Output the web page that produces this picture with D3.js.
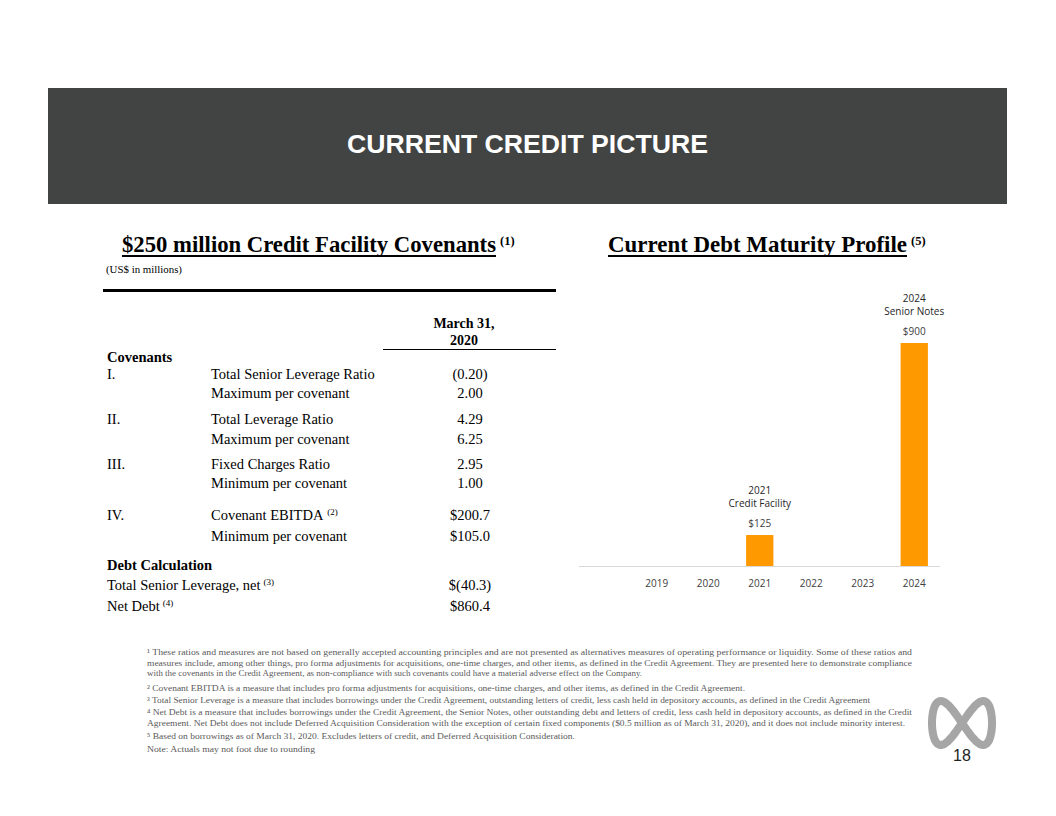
<!DOCTYPE html>
<html><head><meta charset="utf-8">
<script src="https://cdn.jsdelivr.net/npm/d3@7"></script>
<style>body{margin:0;background:#fff}svg{display:block}</style>
</head><body>
<svg id="c" width="1056" height="816"></svg>
<script>
// ---------- DATA ----------
const years = ["2019","2020","2021","2022","2023","2024"];
const maturities = [0, 0, 125, 0, 0, 900];
const barNoteTop = ["", "", "2021", "", "", "2024"];
const barNoteBottom = ["", "", "Credit Facility", "", "", "Senior Notes"];

const covenantNums = ["I.", "", "II.", "", "III.", "", "IV.", ""];
const covenantLabels = ["Total Senior Leverage Ratio", "Maximum per covenant", "Total Leverage Ratio", "Maximum per covenant",
  "Fixed Charges Ratio", "Minimum per covenant", "Covenant EBITDA", "Minimum per covenant"];
const covenantNotes = ["", "", "", "", "", "", "(2)", ""];
const covenantValues = ["(0.20)", "2.00", "4.29", "6.25", "2.95", "1.00", "$200.7", "$105.0"];
const debtLabels = ["Total Senior Leverage, net", "Net Debt"];
const debtNotes = ["(3)", "(4)"];
const debtValues = ["$(40.3)", "$860.4"];

const footnotes = [
  "\u00b9 These ratios and measures are not based on generally accepted accounting principles and are not presented as alternatives measures of operating performance or liquidity. Some of these ratios and",
  "measures include, among other things, pro forma adjustments for acquisitions, one-time charges, and other items, as defined in the Credit Agreement. They are presented here to demonstrate compliance",
  "with the covenants in the Credit Agreement, as non-compliance with such covenants could have a material adverse effect on the Company.",
  "\u00b2 Covenant EBITDA is a measure that includes pro forma adjustments for acquisitions, one-time charges, and other items, as defined in the Credit Agreement.",
  "\u00b3 Total Senior Leverage is a measure that includes borrowings under the Credit Agreement, outstanding letters of credit, less cash held in depository accounts, as defined in the Credit Agreement",
  "\u2074 Net Debt is a measure that includes borrowings under the Credit Agreement, the Senior Notes, other outstanding debt and letters of credit, less cash held in depository accounts, as defined in the Credit",
  "Agreement. Net Debt does not include Deferred Acquisition Consideration with the exception of certain fixed components ($0.5 million as of March 31, 2020), and it does not include minority interest.",
  "\u2075 Based on borrowings as of March 31, 2020. Excludes letters of credit, and Deferred Acquisition Consideration.",
  "Note: Actuals may not foot due to rounding"
];

// ---------- LAYOUT ----------
const svg = d3.select("#c");
const serif = "'Liberation Serif','Times New Roman',serif";
const sans = "'Liberation Sans',Arial,sans-serif";
const chartFont = "'Open Sans','Noto Sans',sans-serif";

// header band
svg.append("rect").attr("x", 48).attr("y", 88).attr("width", 959).attr("height", 116).attr("fill", "#424443");
svg.append("text").attr("x", 347).attr("y", 153)
  .attr("font-family", sans).attr("font-weight", "bold").attr("font-size", 26).attr("fill", "#fff")
  .attr("textLength", 361).attr("lengthAdjust", "spacingAndGlyphs")
  .text("CURRENT CREDIT PICTURE");

// section title helper
function heading(x, y, txt, note, width) {
  svg.append("text").attr("x", x).attr("y", y)
    .attr("font-family", serif).attr("font-weight", "bold").attr("font-size", 22.5).attr("fill", "#000")
    .attr("textLength", width).attr("lengthAdjust", "spacingAndGlyphs").text(txt);
  svg.append("line").attr("x1", x).attr("x2", x + width).attr("y1", y + 4).attr("y2", y + 4)
    .attr("stroke", "#000").attr("stroke-width", 2);
  svg.append("text").attr("x", x + width + 4).attr("y", y - 7)
    .attr("font-family", serif).attr("font-weight", "bold").attr("font-size", 12.5).attr("fill", "#000").text(note);
}
heading(122, 252, "$250 million Credit Facility Covenants", "(1)", 374);
heading(608, 252, "Current Debt Maturity Profile", "(5)", 299);

// ---------- TABLE ----------
svg.append("text").attr("x", 106).attr("y", 273).attr("font-family", serif).attr("font-size", 10)
  .attr("textLength", 76).attr("lengthAdjust", "spacingAndGlyphs").text("(US$ in millions)");
svg.append("line").attr("x1", 103).attr("x2", 556).attr("y1", 290.5).attr("y2", 290.5).attr("stroke", "#000").attr("stroke-width", 3);
svg.append("text").attr("x", 464).attr("y", 328).attr("text-anchor", "middle").attr("font-family", serif)
  .attr("font-weight", "bold").attr("font-size", 14).text("March 31,");
svg.append("text").attr("x", 464).attr("y", 345).attr("text-anchor", "middle").attr("font-family", serif)
  .attr("font-weight", "bold").attr("font-size", 14).text("2020");
svg.append("line").attr("x1", 383).attr("x2", 556).attr("y1", 349.5).attr("y2", 349.5).attr("stroke", "#000").attr("stroke-width", 1);
svg.append("text").attr("x", 107).attr("y", 362).attr("font-family", serif).attr("font-weight", "bold").attr("font-size", 14.5).text("Covenants");

const rowY = [379, 398, 424, 444, 469, 488, 520, 541];
const valX = 470;
const tbl = svg.append("g").attr("font-family", serif).attr("font-size", 14.5).attr("fill", "#000");
covenantLabels.forEach((lab, i) => {
  tbl.append("text").attr("x", 107).attr("y", rowY[i]).text(covenantNums[i]);
  const t = tbl.append("text").attr("x", 211).attr("y", rowY[i]).text(lab);
  if (covenantNotes[i]) {
    const w = t.node().getComputedTextLength();
    tbl.append("text").attr("x", 211 + w + 4).attr("y", rowY[i] - 5).attr("font-size", 9).text(covenantNotes[i]);
  }
  tbl.append("text").attr("x", valX).attr("y", rowY[i]).attr("text-anchor", "middle").text(covenantValues[i]);
});
tbl.append("text").attr("x", 107).attr("y", 570).attr("font-weight", "bold").text("Debt Calculation");
const debtY = [590, 611];
debtLabels.forEach((lab, i) => {
  const t = tbl.append("text").attr("x", 107).attr("y", debtY[i]).text(lab);
  const w = t.node().getComputedTextLength();
  tbl.append("text").attr("x", 107 + w + 3).attr("y", debtY[i] - 5).attr("font-size", 9).text(debtNotes[i]);
  tbl.append("text").attr("x", valX).attr("y", debtY[i]).attr("text-anchor", "middle").text(debtValues[i]);
});

// ---------- BAR CHART ----------
const baseY = 566;
const x = d3.scaleBand().domain(years).range([631, 940]).paddingInner(0.47).paddingOuter(0.235);
const y = d3.scaleLinear().domain([0, 900]).range([baseY, 343]);

svg.append("line").attr("x1", 579).attr("x2", 940).attr("y1", baseY + 0.5).attr("y2", baseY + 0.5)
  .attr("stroke", "#d9d9d9").attr("stroke-width", 1);

const xAxis = svg.append("g").attr("transform", `translate(0,${baseY})`)
  .call(d3.axisBottom(x).tickSize(0).tickPadding(14));
xAxis.select(".domain").remove();
xAxis.selectAll("text").attr("font-family", chartFont).attr("font-size", 10).attr("fill", "#404040");

const bars = svg.append("g");
years.forEach((yr, i) => {
  if (!maturities[i]) return;
  bars.append("rect").attr("x", x(yr)).attr("width", x.bandwidth())
    .attr("y", y(maturities[i])).attr("height", baseY - y(maturities[i])).attr("fill", "#ff9900");
  const cx = x(yr) + x.bandwidth() / 2;
  bars.append("text").attr("x", cx).attr("y", y(maturities[i]) - 8).attr("text-anchor", "middle")
    .attr("font-family", chartFont).attr("font-size", 10).attr("fill", "#404040").text("$" + maturities[i]);
  bars.append("text").attr("x", cx).attr("y", y(maturities[i]) - 41).attr("text-anchor", "middle")
    .attr("font-family", chartFont).attr("font-size", 10).attr("fill", "#262626").text(barNoteTop[i]);
  bars.append("text").attr("x", cx).attr("y", y(maturities[i]) - 28).attr("text-anchor", "middle")
    .attr("font-family", chartFont).attr("font-size", 10).attr("fill", "#262626").text(barNoteBottom[i]);
});

// ---------- FOOTNOTES ----------
const fnY = [655, 665.5, 676, 691, 703, 715, 726, 739, 752];
const fnW = [765, 765, 495, 598, 723, 765, 758, 428, 168];
const fn = svg.append("g").attr("font-family", serif).attr("font-size", 9).attr("fill", "#595959");
footnotes.forEach((s, i) => {
  fn.append("text").attr("x", 147).attr("y", fnY[i]).attr("textLength", fnW[i]).attr("lengthAdjust", "spacingAndGlyphs").text(s);
});

// ---------- LOGO & PAGE NUMBER ----------
const ts = d3.range(0, 2 * Math.PI, Math.PI / 60);
const logo = d3.line().curve(d3.curveCardinalClosed)
  .x(t => 962 + 30 * Math.sin(t))
  .y(t => 723 + 44 * Math.sin(t) * Math.cos(t) * (Math.sin(t) > 0 ? 1 : -1));
svg.append("path").attr("d", logo(ts)).attr("fill", "none").attr("stroke", "#a6a6a6").attr("stroke-width", 8);
svg.append("text").attr("x", 962).attr("y", 761).attr("text-anchor", "middle").attr("font-family", sans)
  .attr("font-size", 16).attr("fill", "#222").text("18");
</script>
</body></html>
